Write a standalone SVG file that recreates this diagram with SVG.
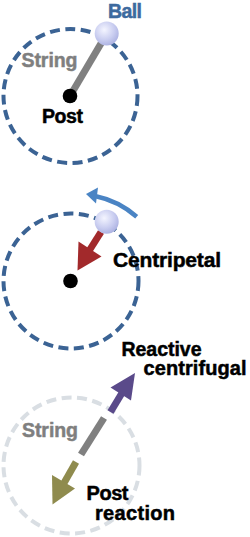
<svg xmlns="http://www.w3.org/2000/svg" width="250" height="537" viewBox="0 0 250 537">
<defs>
<radialGradient id="ballg" cx="0.4" cy="0.35" r="0.7">
<stop offset="0" stop-color="#f4f5ff"/>
<stop offset="0.6" stop-color="#c9cdf0"/>
<stop offset="1" stop-color="#a9afe0"/>
</radialGradient>
<style>
.orbit{fill:none;stroke:#3b6394;stroke-width:4;stroke-dasharray:10 5.5}
.orbit2{fill:none;stroke:#d9dee3;stroke-width:4;stroke-dasharray:10 5.5}
.t{font-family:"Liberation Sans",Arial,sans-serif;font-weight:bold;stroke-width:0.5}
.blk{fill:#000;stroke:#000}
.gry{fill:#7f7f7f;stroke:#7f7f7f}
.blu{fill:#3d6a9e;stroke:#3d6a9e}
.string{stroke:#808080;stroke-width:7;fill:none}
.ball{fill:url(#ballg)}
</style>
</defs>
<g id="orbits">
<circle id="orbit1" class="orbit" cx="70.5" cy="96" r="67"/>
<circle id="orbit2" class="orbit" cx="71" cy="281" r="67.5"/>
<circle id="orbit3" class="orbit2" cx="71.5" cy="465.5" r="68"/>
</g>
<g id="connectors">
<line class="string" x1="70" y1="96" x2="106" y2="35"/>
<path d="M136.7,216.7 A92 92 0 0 0 95,196" fill="none" stroke="#4a84c4" stroke-width="4.5"/>
<polygon points="86,194 98,187.5 96,203.5" fill="#4a84c4"/>
<line x1="101" y1="232" x2="89" y2="251" stroke="#a2292b" stroke-width="7"/>
<polygon points="77.5,270.5 101.5,256.5 78.5,241.5" fill="#a2292b"/>
<line x1="110.5" y1="412" x2="122" y2="393" stroke="#5a4a8a" stroke-width="7"/>
<polygon points="135,373 131,400.5 110.5,387.5" fill="#5a4a8a"/>
<line x1="104" y1="418" x2="81" y2="454.5" stroke="#808080" stroke-width="7"/>
<line x1="76" y1="462" x2="64" y2="483" stroke="#8f8b4e" stroke-width="7"/>
<polygon points="52.5,504.5 75,488.5 52,475" fill="#8f8b4e"/>
</g>
<g id="post1"><circle cx="70" cy="96" r="7.3" fill="#000"/></g>
<g id="post2"><circle cx="70.5" cy="281" r="7.3" fill="#000"/></g>
<g id="ball1"><circle class="ball" cx="106.7" cy="33.5" r="12"/></g>
<g id="ball2"><circle class="ball" cx="106.7" cy="221.7" r="12"/></g>
<g id="labels">
<text class="t blu" x="108" y="17.5" font-size="19.5" textLength="34">Ball</text>
<text class="t gry" x="21.5" y="66.5" font-size="19.5" textLength="56">String</text>
<text class="t blk" x="42" y="122.5" font-size="19.5" textLength="41">Post</text>
<text class="t blk" x="113" y="267" font-size="21" textLength="108">Centripetal</text>
<text class="t blk" x="121.5" y="356" textLength="80" font-size="19.5">Reactive</text>
<text class="t blk" x="143.5" y="375" textLength="103" font-size="20">centrifugal</text>
<text class="t gry" x="22" y="436.5" font-size="19.5" textLength="56">String</text>
<text class="t blk" x="86.5" y="499.5" font-size="20" textLength="42">Post</text>
<text class="t blk" x="95" y="519.5" textLength="80" font-size="20">reaction</text>
</g>
</svg>
